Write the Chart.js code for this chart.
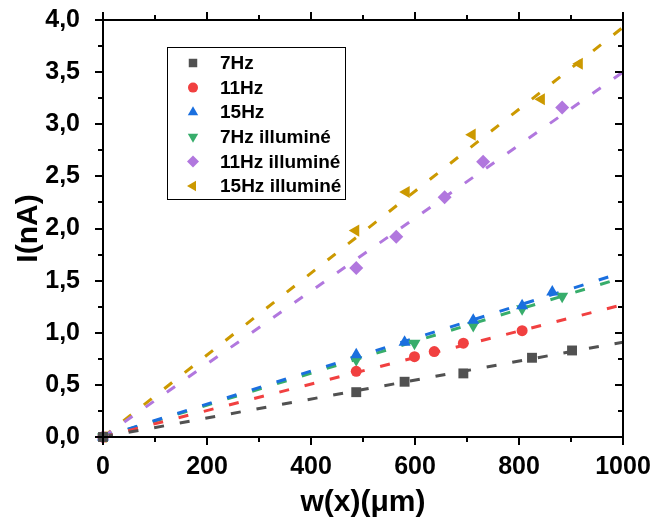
<!DOCTYPE html>
<html>
<head>
<meta charset="utf-8">
<script src="https://cdn.jsdelivr.net/npm/chart.js@4.4.1/dist/chart.umd.min.js"></script>
<style>
  html, body { margin: 0; padding: 0; background: #fff; }
  #wrap { width: 656px; height: 519px; position: relative; }
</style>
</head>
<body>
<div id="wrap"><canvas id="c"></canvas></div>
<script>
// measured points, w(x) in µm and I in nA
const x7 = [0, 487, 580, 693, 825, 902];
const y7 = [0, 0.43, 0.53, 0.61, 0.76, 0.83];
const x11 = [0, 487, 599, 637, 693, 806];
const y11 = [0, 0.63, 0.77, 0.82, 0.90, 1.02];
const x15 = [0, 487, 580, 712, 806, 864];
const y15 = [0, 0.79, 0.91, 1.12, 1.26, 1.39];
const x7i = [0, 487, 599, 712, 806, 883];
const y7i = [0, 0.74, 0.90, 1.07, 1.23, 1.35];
const x11i = [0, 487, 564, 657, 731, 883];
const y11i = [0, 1.62, 1.92, 2.30, 2.64, 3.16];
const x15i = [0, 486, 583, 710, 843, 916];
const y15i = [0, 1.98, 2.35, 2.90, 3.24, 3.58];

// fitted lines: value at 0 and 1000 µm
const fitX = [0, 1000];
const fit7 = [0, 0.91];
const fit11 = [0, 1.27];
const fit15 = [0, 1.58];
const fit7i = [0, 1.53];
const fit11i = [0, 3.50];
const fit15i = [0, 3.93];

const labels = ['7Hz', '11Hz', '15Hz', '7Hz illuminé', '11Hz illuminé', '15Hz illuminé'];
const colors = ['#515151', '#F14040', '#1A6FDF', '#37AD6B', '#B177DE', '#CC9900'];
const styles = ['rect', 'circle', 'triangle', 'triangle', 'rectRot', 'triangle'];
const rotations = [0, 0, 0, 180, 0, 270];
const radii = [7, 5.5, 7, 7, 7, 7];

const FONT = "'Liberation Sans', Arial, sans-serif";

function pts(xs, ys) {
  return xs.map((x, i) => ({ x: x, y: ys[i] }));
}

const series = [[x7, y7], [x11, y11], [x15, y15], [x7i, y7i], [x11i, y11i], [x15i, y15i]];
const fits = [fit7, fit11, fit15, fit7i, fit11i, fit15i];

const datasets = [];
fits.forEach((f, i) => {
  datasets.push({
    type: 'line',
    label: labels[i] + ' fit',
    data: pts(fitX, f),
    borderColor: colors[i],
    borderWidth: 3,
    borderDash: [10, 16],
    pointRadius: 0,
    fill: false,
    order: 2,
  });
});
series.forEach((s, i) => {
  datasets.push({
    type: 'scatter',
    label: labels[i],
    data: pts(s[0], s[1]),
    backgroundColor: colors[i],
    borderColor: colors[i],
    borderWidth: 0,
    pointStyle: styles[i],
    rotation: rotations[i],
    pointRadius: radii[i],
    clip: false,
    order: 1,
  });
});

// kill the label-overflow padding so the plot box sits where it should
function noOverflow(scale) {
  scale.paddingLeft = 0;
  scale.paddingRight = 0;
  scale.paddingTop = 0;
  scale.paddingBottom = 0;
}

// frame and tick marks (outward on left/bottom/top, inward on the right)
const framePlugin = {
  id: 'frame',
  afterDraw(chart) {
    const { ctx, chartArea: a, scales } = chart;
    const xs = scales.x, ys = scales.y;
    ctx.save();
    ctx.strokeStyle = '#000';
    ctx.lineWidth = 2;
    ctx.strokeRect(a.left, a.top, a.right - a.left, a.bottom - a.top);
    ctx.beginPath();
    for (let v = 0; v <= 1000; v += 100) {
      const px = Math.round(xs.getPixelForValue(v));
      const len = v % 200 === 0 ? 8 : 5;
      ctx.moveTo(px, a.bottom); ctx.lineTo(px, a.bottom + len);
      ctx.moveTo(px, a.top); ctx.lineTo(px, a.top - len);
    }
    for (let k = 0; k <= 16; k++) {
      const v = k * 0.25;
      const py = Math.round(ys.getPixelForValue(v));
      const len = k % 2 === 0 ? 8 : 5;
      ctx.moveTo(a.left, py); ctx.lineTo(a.left - len, py);
      ctx.moveTo(a.right, py); ctx.lineTo(a.right - len, py);
    }
    ctx.stroke();

    // legend box
    const bx = a.left + 64, by = a.top + 27, bw = 178, bh = 152;
    ctx.lineWidth = 1;
    ctx.strokeRect(bx + 0.5, by + 0.5, bw, bh);
    ctx.font = 'bold 19px ' + FONT;
    ctx.textBaseline = 'middle';
    ctx.textAlign = 'left';
    labels.forEach((lab, i) => {
      const cy = by + 16 + i * 24.6;
      ctx.fillStyle = colors[i];
      ctx.strokeStyle = colors[i];
      Chart.helpers.drawPoint(ctx, {
        pointStyle: styles[i],
        rotation: rotations[i],
        radius: i === 1 ? 5 : 6,
        borderWidth: 0,
      }, bx + 26, cy);
      ctx.fillStyle = '#000';
      ctx.fillText(lab, bx + 53, cy + 1);
    });
    ctx.restore();
  },
};

new Chart(document.getElementById('c'), {
  type: 'scatter',
  data: { datasets: datasets },
  options: {
    responsive: true,
    maintainAspectRatio: false,
    animation: false,
    layout: { padding: { top: 20, right: 33, left: 0, bottom: 0 } },
    plugins: {
      legend: { display: false },
      tooltip: { enabled: false },
    },
    scales: {
      x: {
        type: 'linear',
        min: 0,
        max: 1000,
        grid: { display: false },
        border: { display: false },
        ticks: {
          stepSize: 200,
          autoSkip: false,
          maxRotation: 0,
          padding: 7,
          color: '#000',
          font: { family: FONT, size: 25, weight: 'bold' },
          callback: (v) => String(v),
        },
        title: {
          display: true,
          text: 'w(x)(μm)',
          color: '#000',
          font: { family: FONT, size: 30, weight: 'bold', lineHeight: 1.1 },
          padding: { top: 0, bottom: 0 },
        },
        afterFit(scale) { scale.height = 82; noOverflow(scale); },
      },
      y: {
        type: 'linear',
        min: 0,
        max: 4,
        grid: { display: false },
        border: { display: false },
        ticks: {
          stepSize: 0.5,
          autoSkip: false,
          padding: 15,
          color: '#000',
          font: { family: FONT, size: 25, weight: 'bold' },
          callback: (v) => Number(v).toFixed(1).replace('.', ','),
        },
        title: {
          display: true,
          text: 'I(nA)',
          color: '#000',
          font: { family: FONT, size: 30, weight: 'bold', lineHeight: 1.2 },
          padding: { top: 11, bottom: 0 },
        },
        afterFit(scale) { scale.width = 103; noOverflow(scale); },
      },
    },
  },
  plugins: [framePlugin],
});
</script>
</body>
</html>
